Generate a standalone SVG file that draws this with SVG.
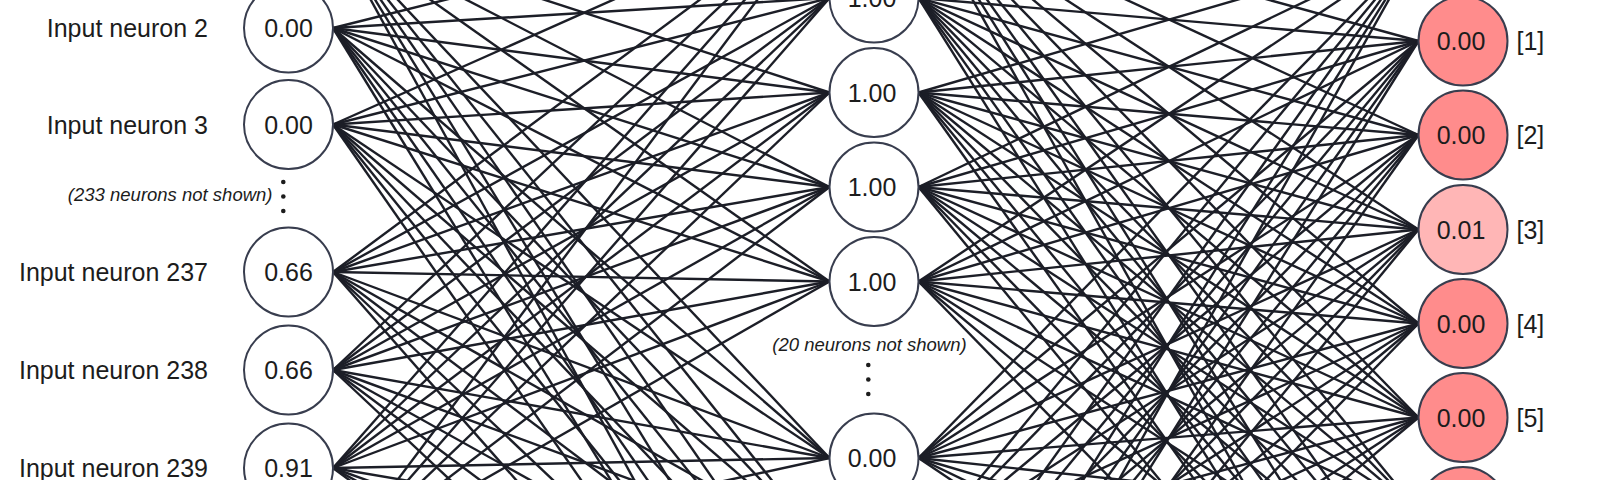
<svg xmlns="http://www.w3.org/2000/svg" width="1600" height="480" viewBox="0 0 1600 480">
<style>
.c{stroke:#1c1e27;stroke-width:2.4;fill:none}
.n{stroke:#383d4e;stroke-width:2;fill:#ffffff}
.o{stroke:#383d4e;stroke-width:2;fill:#ff8c8c}
.o1{stroke:#383d4e;stroke-width:2;fill:#ffb6b6}
.v{font-family:"Liberation Sans",Arial,sans-serif;font-size:25px;fill:#1c1c1c;text-anchor:middle}
.l{font-family:"Liberation Sans",Arial,sans-serif;font-size:25px;fill:#1c1c1c;text-anchor:end}
.r{font-family:"Liberation Sans",Arial,sans-serif;font-size:25px;fill:#1c1c1c;text-anchor:start}
.i{font-family:"Liberation Sans",Arial,sans-serif;font-size:18.5px;font-style:italic;fill:#1c1c1c}
.d{fill:#1c1c1c}
</style>
<rect width="1600" height="480" fill="#ffffff"/>
<g id="connectors">
<line class="c" x1="333" y1="-69" x2="829.5" y2="92.5"/>
<line class="c" x1="333" y1="-69" x2="829.5" y2="187"/>
<line class="c" x1="333" y1="-69" x2="829.5" y2="281.5"/>
<line class="c" x1="333" y1="-69" x2="829.5" y2="458"/>
<line class="c" x1="333" y1="-69" x2="829.5" y2="552.5"/>
<line class="c" x1="333" y1="-69" x2="829.5" y2="647"/>
<line class="c" x1="333" y1="-69" x2="829.5" y2="741.5"/>
<line class="c" x1="333" y1="-69" x2="829.5" y2="836"/>
<line class="c" x1="333" y1="28" x2="829.5" y2="-96.5"/>
<line class="c" x1="333" y1="28" x2="829.5" y2="-2"/>
<line class="c" x1="333" y1="28" x2="829.5" y2="92.5"/>
<line class="c" x1="333" y1="28" x2="829.5" y2="187"/>
<line class="c" x1="333" y1="28" x2="829.5" y2="281.5"/>
<line class="c" x1="333" y1="28" x2="829.5" y2="458"/>
<line class="c" x1="333" y1="28" x2="829.5" y2="552.5"/>
<line class="c" x1="333" y1="28" x2="829.5" y2="647"/>
<line class="c" x1="333" y1="28" x2="829.5" y2="741.5"/>
<line class="c" x1="333" y1="28" x2="829.5" y2="836"/>
<line class="c" x1="333" y1="124.5" x2="829.5" y2="-96.5"/>
<line class="c" x1="333" y1="124.5" x2="829.5" y2="-2"/>
<line class="c" x1="333" y1="124.5" x2="829.5" y2="92.5"/>
<line class="c" x1="333" y1="124.5" x2="829.5" y2="187"/>
<line class="c" x1="333" y1="124.5" x2="829.5" y2="281.5"/>
<line class="c" x1="333" y1="124.5" x2="829.5" y2="458"/>
<line class="c" x1="333" y1="124.5" x2="829.5" y2="552.5"/>
<line class="c" x1="333" y1="124.5" x2="829.5" y2="647"/>
<line class="c" x1="333" y1="124.5" x2="829.5" y2="741.5"/>
<line class="c" x1="333" y1="124.5" x2="829.5" y2="836"/>
<line class="c" x1="333" y1="272" x2="829.5" y2="-96.5"/>
<line class="c" x1="333" y1="272" x2="829.5" y2="-2"/>
<line class="c" x1="333" y1="272" x2="829.5" y2="92.5"/>
<line class="c" x1="333" y1="272" x2="829.5" y2="187"/>
<line class="c" x1="333" y1="272" x2="829.5" y2="281.5"/>
<line class="c" x1="333" y1="272" x2="829.5" y2="458"/>
<line class="c" x1="333" y1="272" x2="829.5" y2="552.5"/>
<line class="c" x1="333" y1="272" x2="829.5" y2="647"/>
<line class="c" x1="333" y1="272" x2="829.5" y2="741.5"/>
<line class="c" x1="333" y1="272" x2="829.5" y2="836"/>
<line class="c" x1="333" y1="370" x2="829.5" y2="-96.5"/>
<line class="c" x1="333" y1="370" x2="829.5" y2="-2"/>
<line class="c" x1="333" y1="370" x2="829.5" y2="92.5"/>
<line class="c" x1="333" y1="370" x2="829.5" y2="187"/>
<line class="c" x1="333" y1="370" x2="829.5" y2="281.5"/>
<line class="c" x1="333" y1="370" x2="829.5" y2="458"/>
<line class="c" x1="333" y1="370" x2="829.5" y2="552.5"/>
<line class="c" x1="333" y1="370" x2="829.5" y2="647"/>
<line class="c" x1="333" y1="370" x2="829.5" y2="741.5"/>
<line class="c" x1="333" y1="370" x2="829.5" y2="836"/>
<line class="c" x1="333" y1="468" x2="829.5" y2="-96.5"/>
<line class="c" x1="333" y1="468" x2="829.5" y2="-2"/>
<line class="c" x1="333" y1="468" x2="829.5" y2="92.5"/>
<line class="c" x1="333" y1="468" x2="829.5" y2="187"/>
<line class="c" x1="333" y1="468" x2="829.5" y2="281.5"/>
<line class="c" x1="333" y1="468" x2="829.5" y2="458"/>
<line class="c" x1="333" y1="468" x2="829.5" y2="552.5"/>
<line class="c" x1="333" y1="468" x2="829.5" y2="647"/>
<line class="c" x1="333" y1="468" x2="829.5" y2="741.5"/>
<line class="c" x1="333" y1="468" x2="829.5" y2="836"/>
<line class="c" x1="333" y1="566" x2="829.5" y2="-96.5"/>
<line class="c" x1="333" y1="566" x2="829.5" y2="-2"/>
<line class="c" x1="333" y1="566" x2="829.5" y2="92.5"/>
<line class="c" x1="333" y1="566" x2="829.5" y2="187"/>
<line class="c" x1="333" y1="566" x2="829.5" y2="281.5"/>
<line class="c" x1="333" y1="566" x2="829.5" y2="458"/>
<line class="c" x1="918.5" y1="-96.5" x2="1418.5" y2="41"/>
<line class="c" x1="918.5" y1="-96.5" x2="1418.5" y2="135"/>
<line class="c" x1="918.5" y1="-96.5" x2="1418.5" y2="229.5"/>
<line class="c" x1="918.5" y1="-96.5" x2="1418.5" y2="323.5"/>
<line class="c" x1="918.5" y1="-96.5" x2="1418.5" y2="417.5"/>
<line class="c" x1="918.5" y1="-96.5" x2="1418.5" y2="511.5"/>
<line class="c" x1="918.5" y1="-96.5" x2="1418.5" y2="605.5"/>
<line class="c" x1="918.5" y1="-96.5" x2="1418.5" y2="700"/>
<line class="c" x1="918.5" y1="-96.5" x2="1418.5" y2="794"/>
<line class="c" x1="918.5" y1="-2" x2="1418.5" y2="41"/>
<line class="c" x1="918.5" y1="-2" x2="1418.5" y2="135"/>
<line class="c" x1="918.5" y1="-2" x2="1418.5" y2="229.5"/>
<line class="c" x1="918.5" y1="-2" x2="1418.5" y2="323.5"/>
<line class="c" x1="918.5" y1="-2" x2="1418.5" y2="417.5"/>
<line class="c" x1="918.5" y1="-2" x2="1418.5" y2="511.5"/>
<line class="c" x1="918.5" y1="-2" x2="1418.5" y2="605.5"/>
<line class="c" x1="918.5" y1="-2" x2="1418.5" y2="700"/>
<line class="c" x1="918.5" y1="-2" x2="1418.5" y2="794"/>
<line class="c" x1="918.5" y1="92.5" x2="1418.5" y2="-53"/>
<line class="c" x1="918.5" y1="92.5" x2="1418.5" y2="41"/>
<line class="c" x1="918.5" y1="92.5" x2="1418.5" y2="135"/>
<line class="c" x1="918.5" y1="92.5" x2="1418.5" y2="229.5"/>
<line class="c" x1="918.5" y1="92.5" x2="1418.5" y2="323.5"/>
<line class="c" x1="918.5" y1="92.5" x2="1418.5" y2="417.5"/>
<line class="c" x1="918.5" y1="92.5" x2="1418.5" y2="511.5"/>
<line class="c" x1="918.5" y1="92.5" x2="1418.5" y2="605.5"/>
<line class="c" x1="918.5" y1="92.5" x2="1418.5" y2="700"/>
<line class="c" x1="918.5" y1="92.5" x2="1418.5" y2="794"/>
<line class="c" x1="918.5" y1="187" x2="1418.5" y2="-53"/>
<line class="c" x1="918.5" y1="187" x2="1418.5" y2="41"/>
<line class="c" x1="918.5" y1="187" x2="1418.5" y2="135"/>
<line class="c" x1="918.5" y1="187" x2="1418.5" y2="229.5"/>
<line class="c" x1="918.5" y1="187" x2="1418.5" y2="323.5"/>
<line class="c" x1="918.5" y1="187" x2="1418.5" y2="417.5"/>
<line class="c" x1="918.5" y1="187" x2="1418.5" y2="511.5"/>
<line class="c" x1="918.5" y1="187" x2="1418.5" y2="605.5"/>
<line class="c" x1="918.5" y1="187" x2="1418.5" y2="700"/>
<line class="c" x1="918.5" y1="187" x2="1418.5" y2="794"/>
<line class="c" x1="918.5" y1="281.5" x2="1418.5" y2="-53"/>
<line class="c" x1="918.5" y1="281.5" x2="1418.5" y2="41"/>
<line class="c" x1="918.5" y1="281.5" x2="1418.5" y2="135"/>
<line class="c" x1="918.5" y1="281.5" x2="1418.5" y2="229.5"/>
<line class="c" x1="918.5" y1="281.5" x2="1418.5" y2="323.5"/>
<line class="c" x1="918.5" y1="281.5" x2="1418.5" y2="417.5"/>
<line class="c" x1="918.5" y1="281.5" x2="1418.5" y2="511.5"/>
<line class="c" x1="918.5" y1="281.5" x2="1418.5" y2="605.5"/>
<line class="c" x1="918.5" y1="281.5" x2="1418.5" y2="700"/>
<line class="c" x1="918.5" y1="281.5" x2="1418.5" y2="794"/>
<line class="c" x1="918.5" y1="458" x2="1418.5" y2="-53"/>
<line class="c" x1="918.5" y1="458" x2="1418.5" y2="41"/>
<line class="c" x1="918.5" y1="458" x2="1418.5" y2="135"/>
<line class="c" x1="918.5" y1="458" x2="1418.5" y2="229.5"/>
<line class="c" x1="918.5" y1="458" x2="1418.5" y2="323.5"/>
<line class="c" x1="918.5" y1="458" x2="1418.5" y2="417.5"/>
<line class="c" x1="918.5" y1="458" x2="1418.5" y2="511.5"/>
<line class="c" x1="918.5" y1="458" x2="1418.5" y2="605.5"/>
<line class="c" x1="918.5" y1="458" x2="1418.5" y2="700"/>
<line class="c" x1="918.5" y1="458" x2="1418.5" y2="794"/>
<line class="c" x1="918.5" y1="552.5" x2="1418.5" y2="-53"/>
<line class="c" x1="918.5" y1="552.5" x2="1418.5" y2="41"/>
<line class="c" x1="918.5" y1="552.5" x2="1418.5" y2="135"/>
<line class="c" x1="918.5" y1="552.5" x2="1418.5" y2="229.5"/>
<line class="c" x1="918.5" y1="552.5" x2="1418.5" y2="323.5"/>
<line class="c" x1="918.5" y1="552.5" x2="1418.5" y2="417.5"/>
<line class="c" x1="918.5" y1="647" x2="1418.5" y2="-53"/>
<line class="c" x1="918.5" y1="647" x2="1418.5" y2="41"/>
<line class="c" x1="918.5" y1="647" x2="1418.5" y2="135"/>
<line class="c" x1="918.5" y1="647" x2="1418.5" y2="229.5"/>
<line class="c" x1="918.5" y1="647" x2="1418.5" y2="323.5"/>
<line class="c" x1="918.5" y1="647" x2="1418.5" y2="417.5"/>
<line class="c" x1="918.5" y1="741.5" x2="1418.5" y2="-53"/>
<line class="c" x1="918.5" y1="741.5" x2="1418.5" y2="41"/>
<line class="c" x1="918.5" y1="741.5" x2="1418.5" y2="135"/>
<line class="c" x1="918.5" y1="741.5" x2="1418.5" y2="229.5"/>
<line class="c" x1="918.5" y1="741.5" x2="1418.5" y2="323.5"/>
<line class="c" x1="918.5" y1="741.5" x2="1418.5" y2="417.5"/>
<line class="c" x1="918.5" y1="836" x2="1418.5" y2="-53"/>
<line class="c" x1="918.5" y1="836" x2="1418.5" y2="41"/>
<line class="c" x1="918.5" y1="836" x2="1418.5" y2="135"/>
<line class="c" x1="918.5" y1="836" x2="1418.5" y2="229.5"/>
<line class="c" x1="918.5" y1="836" x2="1418.5" y2="323.5"/>
<line class="c" x1="918.5" y1="836" x2="1418.5" y2="417.5"/>
</g>
<g id="input-neuron-2"><circle class="n" cx="288.5" cy="28" r="44.5"/><text class="v" x="288.5" y="37">0.00</text><text class="l" x="208" y="37">Input neuron 2</text></g>
<g id="input-neuron-3"><circle class="n" cx="288.5" cy="124.5" r="44.5"/><text class="v" x="288.5" y="133.5">0.00</text><text class="l" x="208" y="133.5">Input neuron 3</text></g>
<g id="input-hidden"><text class="i" x="272.5" y="201" text-anchor="end">(233 neurons not shown)</text><circle class="d" cx="283.3" cy="182" r="2.3"/><circle class="d" cx="283.3" cy="196.5" r="2.3"/><circle class="d" cx="283.3" cy="211" r="2.3"/></g>
<g id="input-neuron-237"><circle class="n" cx="288.5" cy="272" r="44.5"/><text class="v" x="288.5" y="281">0.66</text><text class="l" x="208" y="281">Input neuron 237</text></g>
<g id="input-neuron-238"><circle class="n" cx="288.5" cy="370" r="44.5"/><text class="v" x="288.5" y="379">0.66</text><text class="l" x="208" y="379">Input neuron 238</text></g>
<g id="input-neuron-239"><circle class="n" cx="288.5" cy="468" r="44.5"/><text class="v" x="288.5" y="477">0.91</text><text class="l" x="208" y="477">Input neuron 239</text></g>
<g id="hidden-1"><circle class="n" cx="874" cy="-2" r="44.5"/><text class="v" x="872" y="7">1.00</text></g>
<g id="hidden-2"><circle class="n" cx="874" cy="92.5" r="44.5"/><text class="v" x="872" y="101.5">1.00</text></g>
<g id="hidden-3"><circle class="n" cx="874" cy="187" r="44.5"/><text class="v" x="872" y="196">1.00</text></g>
<g id="hidden-4"><circle class="n" cx="874" cy="281.5" r="44.5"/><text class="v" x="872" y="290.5">1.00</text></g>
<g id="hidden-gap"><text class="i" x="869.5" y="351" text-anchor="middle">(20 neurons not shown)</text><circle class="d" cx="868.3" cy="365" r="2.3"/><circle class="d" cx="868.3" cy="379.5" r="2.3"/><circle class="d" cx="868.3" cy="394" r="2.3"/></g>
<g id="hidden-last"><circle class="n" cx="874" cy="458" r="44.5"/><text class="v" x="872" y="467">0.00</text></g>
<g id="output-1"><circle class="o" cx="1463" cy="41" r="44.5"/><text class="v" x="1461" y="50">0.00</text><text class="r" x="1516.5" y="50">[1]</text></g>
<g id="output-2"><circle class="o" cx="1463" cy="135" r="44.5"/><text class="v" x="1461" y="144">0.00</text><text class="r" x="1516.5" y="144">[2]</text></g>
<g id="output-3"><circle class="o1" cx="1463" cy="229.5" r="44.5"/><text class="v" x="1461" y="238.5">0.01</text><text class="r" x="1516.5" y="238.5">[3]</text></g>
<g id="output-4"><circle class="o" cx="1463" cy="323.5" r="44.5"/><text class="v" x="1461" y="332.5">0.00</text><text class="r" x="1516.5" y="332.5">[4]</text></g>
<g id="output-5"><circle class="o" cx="1463" cy="417.5" r="44.5"/><text class="v" x="1461" y="426.5">0.00</text><text class="r" x="1516.5" y="426.5">[5]</text></g>
<g id="output-6"><circle class="o" cx="1463" cy="511.5" r="44.5"/></g>
</svg>
